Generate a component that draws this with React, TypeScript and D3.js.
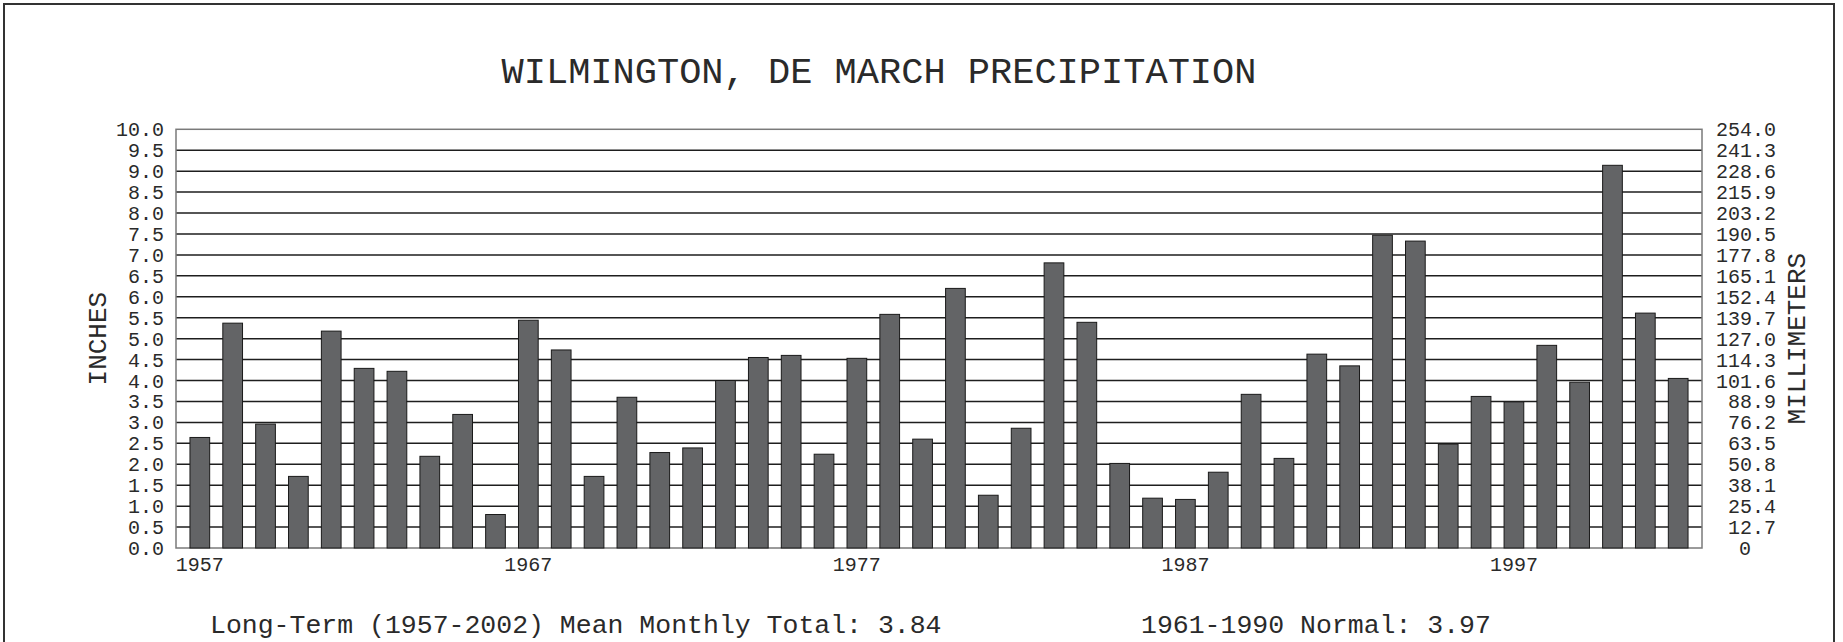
import React from "react";
import { scaleBand, scaleLinear, range } from "d3";

// March precipitation totals (inches), Wilmington DE, 1957-2002
const years = range(1957, 2003);
const precip = [
  2.64, 5.37, 2.96, 1.71, 5.18, 4.29, 4.22, 2.19, 3.19, 0.80,
  5.44, 4.73, 1.71, 3.60, 2.28, 2.39, 4.00, 4.55, 4.60, 2.24,
  4.53, 5.58, 2.60, 6.20, 1.26, 2.86, 6.81, 5.39, 2.02, 1.19,
  1.16, 1.81, 3.67, 2.14, 4.63, 4.35, 7.47, 7.33, 2.48, 3.62,
  3.49, 4.84, 3.96, 9.14, 5.61, 4.05,
];
const yearLabels = [1957, 1967, 1977, 1987, 1997];
const inchTicks = range(0, 10.01, 0.5);
const mmLabels = [
  "0", "12.7", "25.4", "38.1", "50.8", "63.5", "76.2", "88.9", "101.6", "114.3",
  "127.0", "139.7", "152.4", "165.1", "177.8", "190.5", "203.2", "215.9", "228.6", "241.3", "254.0",
];

const title = "WILMINGTON, DE MARCH PRECIPITATION";
const footLeft = "Long-Term (1957-2002) Mean Monthly Total: 3.84";
const footRight = "1961-1990 Normal: 3.97";

const W = 1843;
const H = 642;
const left = 176, right = 1702, top = 129.3, bottom = 548;
const font = "'Liberation Mono', 'Courier New', monospace";
const ink = "#2a2a2a";

export default function App() {
  const x = scaleBand<number>()
    .domain(years)
    .range([left, right])
    .paddingInner(0.4)
    .paddingOuter(0.425);
  const y = scaleLinear().domain([0, 10]).range([bottom, top]);

  return (
    <svg width={W} height={H} style={{ position: "absolute", left: 0, top: 0, background: "#fff" }}>
      <rect x={4} y={4} width={1830} height={H + 10} fill="none" stroke="#333" strokeWidth={2} />

      <text x={879} y={83} fontFamily={font} fontSize={37} textAnchor="middle" fill={ink}>{title}</text>

      {/* grid */}
      {inchTicks.filter((t) => t > 0 && t < 10).map((t) => (
        <line key={t} x1={left} x2={right} y1={y(t)} y2={y(t)} stroke="#1e1e1e" strokeWidth={1.5} />
      ))}
      <rect x={left} y={top} width={right - left} height={bottom - top} fill="none" stroke="#7a7a7a" strokeWidth={1.5} />

      {/* bars */}
      {years.map((yr, i) => (
        <rect
          key={yr}
          x={x(yr)}
          y={y(precip[i])}
          width={x.bandwidth()}
          height={bottom - y(precip[i])}
          fill="#636466"
          stroke="#1a1a1a"
          strokeWidth={1}
        />
      ))}

      {/* left axis */}
      {inchTicks.map((t) => (
        <text key={t} x={164} y={y(t) + 1.5} fontFamily={font} fontSize={20} textAnchor="end" dominantBaseline="central" fill={ink}>
          {t.toFixed(1)}
        </text>
      ))}
      {/* right axis */}
      {mmLabels.map((m, i) => (
        <text key={m} x={m === "0" ? 1745 : 1776} y={y(inchTicks[i]) + 1.5} fontFamily={font} fontSize={20}
          textAnchor={m === "0" ? "middle" : "end"} dominantBaseline="central" fill={ink}>
          {m}
        </text>
      ))}

      {/* x labels */}
      {yearLabels.map((yr) => (
        <text key={yr} x={(x(yr) ?? 0) + x.bandwidth() / 2} y={571} fontFamily={font} fontSize={20} textAnchor="middle" fill={ink}>
          {yr}
        </text>
      ))}

      <text transform={`translate(98.5, ${(top + bottom) / 2}) rotate(-90)`} fontFamily={font} fontSize={26} textAnchor="middle" dominantBaseline="central" fill={ink}>INCHES</text>
      <text transform={`translate(1798, ${(top + bottom) / 2}) rotate(-90)`} fontFamily={font} fontSize={26} textAnchor="middle" dominantBaseline="central" fill={ink}>MILLIMETERS</text>

      <text x={210} y={633} fontFamily={font} fontSize={26.5} fill={ink}>{footLeft}</text>
      <text x={1141} y={633} fontFamily={font} fontSize={26.5} fill={ink}>{footRight}</text>
    </svg>
  );
}
